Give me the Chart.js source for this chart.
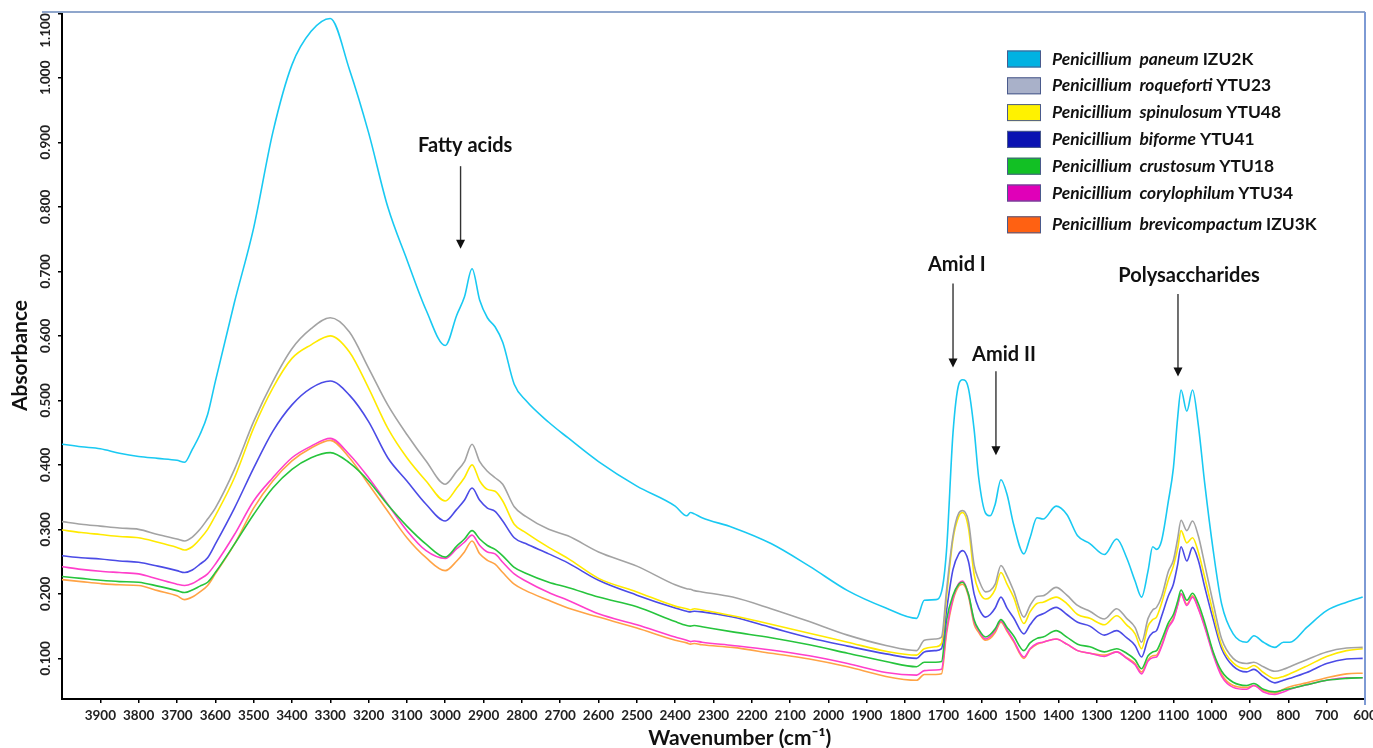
<!DOCTYPE html>
<html>
<head>
<meta charset="utf-8">
<script src="https://cdn.jsdelivr.net/npm/chart.js@4.4.1/dist/chart.umd.min.js"></script>
<style>
  html, body { margin: 0; padding: 0; background: #ffffff; }
  #wrap { width: 1373px; height: 748px; }
</style>
</head>
<body>
<div id="wrap"><canvas id="c" width="1373" height="748"></canvas></div>
<script>
// ---------- DATA ----------
const WAVENUMBERS = [
  4000, 3950, 3900, 3850, 3800, 3750, 3700, 3680, 3660, 3640,
  3620, 3600, 3550, 3500, 3450, 3400, 3350, 3300, 3250, 3200,
  3150, 3100, 3050, 3000, 2970, 2950, 2930, 2910, 2890, 2870,
  2850, 2820, 2790, 2730, 2680, 2600, 2500, 2400, 2370, 2360,
  2350, 2330, 2250, 2150, 2050, 1950, 1850, 1770, 1750, 1720,
  1705, 1692, 1675, 1660, 1650, 1635, 1620, 1608, 1590, 1578,
  1565, 1550, 1534, 1517, 1490, 1474, 1456, 1440, 1406, 1378,
  1350, 1318, 1280, 1248, 1222, 1200, 1183, 1166, 1154, 1144,
  1131, 1113, 1100, 1089, 1080, 1065, 1050, 1035, 1018, 996,
  974, 944, 909, 890, 865, 835, 813, 796, 752, 700,
  648, 606
];

const PANEUM = [
  0.432, 0.428, 0.425, 0.418, 0.413, 0.410, 0.407, 0.404, 0.424, 0.447,
  0.478, 0.529, 0.652, 0.767, 0.915, 1.020, 1.072, 1.092, 1.013, 0.915,
  0.800, 0.718, 0.640, 0.585, 0.632, 0.660, 0.704, 0.655, 0.628, 0.614,
  0.590, 0.525, 0.500, 0.466, 0.442, 0.405, 0.367, 0.336, 0.321, 0.326,
  0.324, 0.318, 0.303, 0.278, 0.243, 0.205, 0.178, 0.162, 0.190, 0.191,
  0.203, 0.267, 0.450, 0.525, 0.532, 0.519, 0.455, 0.380, 0.325, 0.321,
  0.339, 0.377, 0.354, 0.308, 0.262, 0.287, 0.318, 0.316, 0.336, 0.323,
  0.290, 0.278, 0.261, 0.285, 0.256, 0.220, 0.195, 0.236, 0.273, 0.269,
  0.282, 0.344, 0.395, 0.472, 0.516, 0.483, 0.516, 0.462, 0.370, 0.267,
  0.184, 0.138, 0.125, 0.135, 0.125, 0.117, 0.125, 0.125, 0.148, 0.174,
  0.187, 0.195
];
const ROQUEFORTI = [
  0.312, 0.308, 0.305, 0.302, 0.300, 0.292, 0.285, 0.282, 0.288, 0.300,
  0.316, 0.333, 0.393, 0.467, 0.529, 0.580, 0.611, 0.628, 0.606, 0.550,
  0.493, 0.447, 0.406, 0.370, 0.390, 0.405, 0.432, 0.405, 0.390, 0.380,
  0.370, 0.335, 0.320, 0.300, 0.290, 0.265, 0.243, 0.214, 0.208, 0.207,
  0.205, 0.203, 0.195, 0.177, 0.157, 0.136, 0.120, 0.112, 0.128, 0.130,
  0.133, 0.205, 0.290, 0.325, 0.329, 0.313, 0.245, 0.222, 0.203, 0.205,
  0.215, 0.244, 0.228, 0.205, 0.164, 0.182, 0.196, 0.197, 0.210, 0.198,
  0.182, 0.173, 0.161, 0.177, 0.162, 0.148, 0.125, 0.162, 0.175, 0.179,
  0.195, 0.235, 0.252, 0.285, 0.314, 0.298, 0.313, 0.290, 0.245, 0.185,
  0.130, 0.100, 0.092, 0.094, 0.087, 0.080, 0.083, 0.087, 0.098, 0.110,
  0.116, 0.117
];
const SPINULOSUM = [
  0.299, 0.295, 0.292, 0.289, 0.287, 0.280, 0.272, 0.268, 0.273, 0.285,
  0.300, 0.321, 0.380, 0.457, 0.519, 0.565, 0.586, 0.600, 0.575, 0.519,
  0.457, 0.411, 0.375, 0.344, 0.364, 0.380, 0.400, 0.375, 0.362, 0.359,
  0.344, 0.308, 0.295, 0.272, 0.255, 0.224, 0.203, 0.181, 0.177, 0.175,
  0.177, 0.175, 0.166, 0.153, 0.139, 0.125, 0.111, 0.105, 0.115, 0.118,
  0.123, 0.195, 0.285, 0.320, 0.326, 0.303, 0.230, 0.205, 0.192, 0.195,
  0.207, 0.233, 0.215, 0.195, 0.154, 0.172, 0.185, 0.187, 0.195, 0.185,
  0.168, 0.162, 0.152, 0.166, 0.152, 0.138, 0.115, 0.150, 0.160, 0.164,
  0.185, 0.222, 0.243, 0.270, 0.298, 0.279, 0.287, 0.265, 0.225, 0.170,
  0.120, 0.093, 0.084, 0.089, 0.078, 0.069, 0.072, 0.076, 0.088, 0.103,
  0.112, 0.115
];
const BIFORME = [
  0.259, 0.256, 0.254, 0.251, 0.249, 0.243, 0.236, 0.233, 0.237, 0.246,
  0.256, 0.277, 0.333, 0.395, 0.452, 0.493, 0.519, 0.530, 0.508, 0.467,
  0.411, 0.375, 0.339, 0.313, 0.331, 0.345, 0.364, 0.345, 0.333, 0.328,
  0.313, 0.287, 0.278, 0.262, 0.248, 0.221, 0.198, 0.178, 0.173, 0.172,
  0.173, 0.172, 0.164, 0.148, 0.132, 0.119, 0.107, 0.100, 0.110, 0.112,
  0.115, 0.174, 0.238, 0.262, 0.267, 0.251, 0.200, 0.178, 0.164, 0.168,
  0.178, 0.195, 0.178, 0.163, 0.138, 0.152, 0.165, 0.169, 0.179, 0.168,
  0.156, 0.150, 0.136, 0.143, 0.132, 0.120, 0.102, 0.130, 0.140, 0.143,
  0.165, 0.197, 0.215, 0.245, 0.273, 0.251, 0.272, 0.252, 0.210, 0.160,
  0.115, 0.088, 0.079, 0.083, 0.072, 0.062, 0.066, 0.069, 0.078, 0.092,
  0.099, 0.100
];
const CRUSTOSUM = [
  0.227, 0.224, 0.221, 0.219, 0.218, 0.212, 0.205, 0.202, 0.206, 0.212,
  0.218, 0.233, 0.277, 0.323, 0.364, 0.393, 0.411, 0.419, 0.403, 0.375,
  0.338, 0.305, 0.277, 0.257, 0.274, 0.285, 0.298, 0.285, 0.275, 0.269,
  0.259, 0.241, 0.232, 0.218, 0.210, 0.195, 0.180, 0.157, 0.151, 0.150,
  0.151, 0.149, 0.141, 0.132, 0.121, 0.108, 0.095, 0.087, 0.094, 0.094,
  0.095, 0.159, 0.198, 0.215, 0.218, 0.200, 0.160, 0.145, 0.133, 0.137,
  0.146, 0.160, 0.148, 0.135, 0.112, 0.124, 0.131, 0.133, 0.143, 0.133,
  0.122, 0.118, 0.110, 0.115, 0.108, 0.098, 0.084, 0.104, 0.110, 0.112,
  0.128, 0.155, 0.168, 0.188, 0.206, 0.190, 0.201, 0.185, 0.155, 0.110,
  0.080, 0.063, 0.058, 0.061, 0.052, 0.048, 0.051, 0.053, 0.059, 0.066,
  0.069, 0.070
];
const CORYLOPHILUM = [
  0.242, 0.238, 0.235, 0.233, 0.231, 0.223, 0.215, 0.213, 0.216, 0.223,
  0.231, 0.246, 0.292, 0.344, 0.380, 0.411, 0.429, 0.441, 0.416, 0.380,
  0.339, 0.298, 0.267, 0.255, 0.270, 0.280, 0.291, 0.275, 0.265, 0.262,
  0.249, 0.231, 0.220, 0.202, 0.190, 0.169, 0.152, 0.133, 0.128, 0.126,
  0.127, 0.125, 0.120, 0.113, 0.104, 0.092, 0.078, 0.074, 0.081, 0.082,
  0.083, 0.143, 0.193, 0.216, 0.220, 0.200, 0.157, 0.143, 0.130, 0.134,
  0.143, 0.158, 0.144, 0.128, 0.102, 0.115, 0.123, 0.125, 0.130, 0.122,
  0.112, 0.108, 0.103, 0.110, 0.100, 0.090, 0.076, 0.096, 0.101, 0.102,
  0.118, 0.148, 0.160, 0.182, 0.200, 0.182, 0.195, 0.177, 0.148, 0.105,
  0.072, 0.055, 0.052, 0.058, 0.048, 0.044, 0.048, 0.052, 0.059, 0.066,
  0.070, 0.070
];
const BREVICOMPACTUM = [
  0.222, 0.219, 0.216, 0.214, 0.213, 0.205, 0.197, 0.191, 0.195, 0.203,
  0.213, 0.231, 0.277, 0.333, 0.375, 0.406, 0.426, 0.438, 0.411, 0.370,
  0.328, 0.287, 0.256, 0.236, 0.251, 0.265, 0.282, 0.262, 0.252, 0.246,
  0.233, 0.215, 0.205, 0.190, 0.178, 0.164, 0.147, 0.128, 0.124, 0.122,
  0.123, 0.121, 0.117, 0.108, 0.099, 0.087, 0.072, 0.066, 0.075, 0.075,
  0.076, 0.138, 0.190, 0.212, 0.215, 0.197, 0.153, 0.140, 0.128, 0.131,
  0.140, 0.156, 0.142, 0.126, 0.100, 0.114, 0.122, 0.125, 0.130, 0.122,
  0.112, 0.108, 0.105, 0.110, 0.101, 0.092, 0.079, 0.098, 0.104, 0.105,
  0.120, 0.150, 0.162, 0.183, 0.200, 0.184, 0.197, 0.178, 0.150, 0.108,
  0.075, 0.058, 0.055, 0.058, 0.050, 0.046, 0.052, 0.056, 0.062, 0.070,
  0.076, 0.077
];

const SPECIES = [
  'Penicillium  paneum', 'Penicillium  roqueforti', 'Penicillium  spinulosum',
  'Penicillium  biforme', 'Penicillium  crustosum', 'Penicillium  corylophilum',
  'Penicillium  brevicompactum'
];
const STRAINS = ['IZU2K', 'YTU23', 'YTU48', 'YTU41', 'YTU18', 'YTU34', 'IZU3K'];
const SERIES = [PANEUM, ROQUEFORTI, SPINULOSUM, BIFORME, CRUSTOSUM, CORYLOPHILUM, BREVICOMPACTUM];

const X_TICKS = [3900, 3800, 3700, 3600, 3500, 3400, 3300, 3200, 3100, 3000, 2900, 2800, 2700, 2600, 2500, 2400, 2300, 2200, 2100, 2000, 1900, 1800, 1700, 1600, 1500, 1400, 1300, 1200, 1100, 1000, 900, 800, 700, 600];
const Y_TICKS = [0.1, 0.2, 0.3, 0.4, 0.5, 0.6, 0.7, 0.8, 0.9, 1.0, 1.1];
const X_TITLE = 'Wavenumber (cm⁻¹)';
const Y_TITLE = 'Absorbance';

const NOTES = [
  { text: 'Fatty acids',     tx: 2948, ty: 0.895, ax: 2960, y0: 0.863, y1: 0.735 },
  { text: 'Amid I',          tx: 1665, ty: 0.710, ax: 1675, y0: 0.681, y1: 0.551 },
  { text: 'Amid II',         tx: 1542, ty: 0.571, ax: 1563, y0: 0.545, y1: 0.415 },
  { text: 'Polysaccharides', tx: 1059, ty: 0.693, ax: 1088, y0: 0.665, y1: 0.537 }
];

// ---------- STYLES ----------
const LINE_COLORS   = ['#19C9F2', '#A3A3A3', '#FFEA00', '#4B4BE6', '#26C43C', '#FF3FCB', '#FFA345'];
const SWATCH_COLORS = ['#00B2E2', '#A9B1C9', '#FFF200', '#0A12B2', '#12C024', '#E000B8', '#FF6112'];
const FONT = 'Lato, "Open Sans", sans-serif';
const TICK_FONT = { family: FONT, size: 13.5, weight: 'bold' };

const datasets = SERIES.map((vals, i) => ({
  label: SPECIES[i] + ' ' + STRAINS[i],
  data: WAVENUMBERS.map((w, j) => ({ x: w, y: vals[j] })),
  borderColor: LINE_COLORS[i],
  backgroundColor: LINE_COLORS[i],
  borderWidth: 1.6,
  pointRadius: 0,
  cubicInterpolationMode: 'monotone',
  fill: false
}));

const TOP_Y_TICK = Y_TICKS[Y_TICKS.length - 1];

const extras = {
  id: 'extras',
  afterDatasetsDraw(chart) {
    const { ctx, chartArea: a, scales: { x, y } } = chart;
    ctx.save();
    // plot frame (top and right)
    ctx.lineWidth = 2;
    ctx.strokeStyle = '#8FA6CC';
    ctx.beginPath(); ctx.moveTo(42, a.top); ctx.lineTo(a.right, a.top); ctx.stroke();
    ctx.strokeStyle = '#7D9AD4';
    ctx.beginPath(); ctx.moveTo(a.right, a.top); ctx.lineTo(a.right, a.bottom + 6); ctx.stroke();

    // top y tick label, shifted below its tick so it stays inside the picture
    ctx.save();
    ctx.font = 'bold ' + TICK_FONT.size + 'px ' + FONT;
    ctx.fillStyle = '#222';
    ctx.textAlign = 'left';
    ctx.textBaseline = 'middle';
    ctx.translate(46, y.getPixelForValue(TOP_Y_TICK));
    ctx.rotate(-Math.PI / 2);
    ctx.textAlign = 'right';
    ctx.fillText(TOP_Y_TICK.toFixed(3), 0, 0);
    ctx.restore();

    // annotations
    ctx.font = 'bold 20px ' + FONT;
    ctx.textAlign = 'center';
    ctx.textBaseline = 'middle';
    NOTES.forEach(n => {
      ctx.fillStyle = '#111';
      ctx.fillText(n.text, x.getPixelForValue(n.tx), y.getPixelForValue(n.ty));
      const px = x.getPixelForValue(n.ax);
      const p0 = y.getPixelForValue(n.y0);
      const p1 = y.getPixelForValue(n.y1);
      ctx.strokeStyle = '#333';
      ctx.lineWidth = 1.4;
      ctx.beginPath(); ctx.moveTo(px, p0); ctx.lineTo(px, p1 - 8); ctx.stroke();
      ctx.fillStyle = '#111';
      ctx.beginPath();
      ctx.moveTo(px - 4.5, p1 - 9); ctx.lineTo(px + 4.5, p1 - 9); ctx.lineTo(px, p1); ctx.closePath();
      ctx.fill();
    });

    // legend
    const lx = 1007, ly = 51, sw = 34, sh = 17;
    chart.data.datasets.forEach((ds, i) => {
      const cy = ly + 8 + i * 26.8 + (i === 6 ? 5 : 0);
      ctx.fillStyle = SWATCH_COLORS[i];
      ctx.fillRect(lx, cy - sh / 2, sw, sh);
      ctx.strokeStyle = '#4A5A8C';
      ctx.lineWidth = 1;
      ctx.strokeRect(lx + 0.5, cy - sh / 2 + 0.5, sw - 1, sh - 1);
      ctx.textAlign = 'left';
      ctx.fillStyle = '#111';
      ctx.font = 'italic bold 17.4px ' + FONT;
      const sp = SPECIES[i];
      ctx.fillText(sp, lx + 45, cy);
      const w = ctx.measureText(sp + ' ').width;
      ctx.font = 'bold 17.4px ' + FONT;
      ctx.fillText(STRAINS[i], lx + 45 + w, cy);
    });
    ctx.restore();
  }
};

new Chart(document.getElementById('c'), {
  type: 'line',
  data: { datasets },
  options: {
    responsive: false,
    animation: false,
    devicePixelRatio: 1,
    layout: { padding: { left: 0, right: 8, top: 12, bottom: 0 } },
    plugins: { legend: { display: false }, tooltip: { enabled: false } },
    scales: {
      x: {
        type: 'linear',
        reverse: true,
        min: 600,
        max: 4000,
        afterBuildTicks: s => { s.ticks = X_TICKS.map(v => ({ value: v })); },
        afterFit: s => { s.height = 49; s.paddingLeft = 0; s.paddingRight = 0; },
        ticks: {
          autoSkip: false,
          maxRotation: 0,
          minRotation: 0,
          padding: 5,
          color: '#222',
          font: TICK_FONT,
          callback: v => String(v)
        },
        grid: { drawOnChartArea: false, drawTicks: true, tickLength: 4, color: '#000', lineWidth: 1.5 },
        border: { display: true, color: '#000', width: 2 },
        title: {
          display: true,
          text: '\u2002\u2002\u2002\u2002\u2002' + X_TITLE,
          color: '#111',
          font: { family: FONT, size: 21, weight: 'bold', lineHeight: 1.2 },
          padding: { top: 0, bottom: -3 }
        }
      },
      y: {
        type: 'linear',
        min: 0.037,
        max: 1.102,
        afterBuildTicks: s => { s.ticks = Y_TICKS.map(v => ({ value: v })); },
        afterFit: s => { s.width = 62; s.paddingTop = 0; s.paddingBottom = 0; },
        ticks: {
          autoSkip: false,
          minRotation: 90,
          maxRotation: 90,
          crossAlign: 'center',
          padding: -5,
          color: '#222',
          font: TICK_FONT,
          callback: v => (v === TOP_Y_TICK ? '' : Number(v).toFixed(3))
        },
        grid: { drawOnChartArea: false, drawTicks: true, tickLength: 4, color: '#000', lineWidth: 1.5 },
        border: { display: true, color: '#000', width: 2 },
        title: {
          display: true,
          text: Y_TITLE,
          color: '#111',
          font: { family: FONT, size: 21, weight: 'bold', lineHeight: 1.2 },
          padding: { top: 8, bottom: 0 }
        }
      }
    }
  },
  plugins: [extras]
});
</script>
</body>
</html>
